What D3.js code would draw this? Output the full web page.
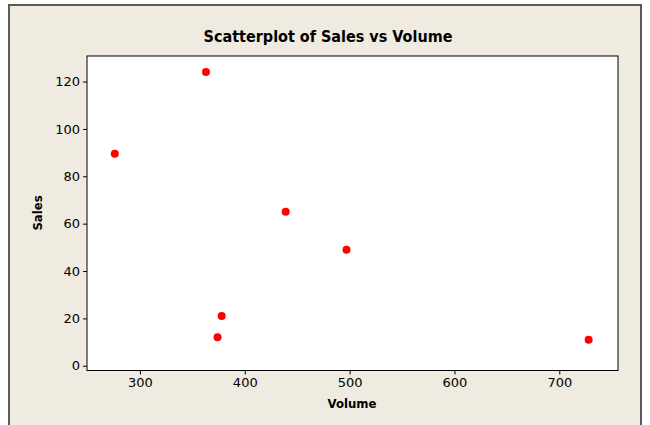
<!DOCTYPE html>
<html>
<head>
<meta charset="utf-8">
<script src="https://cdn.jsdelivr.net/npm/d3@7"></script>
<style>
body { margin: 0; background: #fff; }
svg text { font-family: Tahoma, "DejaVu Sans", Verdana, sans-serif; fill: #000; }
</style>
</head>
<body>
<div id="chart"></div>
<script>
// values
var volume = [276, 363, 439, 497, 378, 374, 728];
var sales = [89.5, 124, 65, 49, 21, 12, 11];
var xTicks = [300, 400, 500, 600, 700];
var yTicks = [0, 20, 40, 60, 80, 100, 120];

var width = 650, height = 425;
var plot = {left: 87, right: 618, top: 56, bottom: 370.5};

var svg = d3.select('#chart').append('svg')
    .attr('width', width)
    .attr('height', height);

// beige frame
svg.append('rect')
    .attr('x', 9).attr('y', 5)
    .attr('width', 632).attr('height', 440)
    .style('fill', '#efebe1')
    .style('stroke', '#5a5a5a')
    .style('stroke-width', 2);

svg.append('rect')
    .attr('x', plot.left).attr('y', plot.top)
    .attr('width', plot.right - plot.left)
    .attr('height', plot.bottom - plot.top)
    .style('fill', '#fff')
    .style('stroke', '#000')
    .style('stroke-width', 1);

var x = d3.scaleLinear().domain([249.5, 756]).range([plot.left, plot.right]);
var y = d3.scaleLinear().domain([-2, 130.8]).range([plot.bottom, plot.top]);

var xAxis = svg.append('g')
    .attr('transform', 'translate(0,' + plot.bottom + ')')
    .call(d3.axisBottom(x).tickValues(xTicks).tickSize(4).tickPadding(3));
var yAxis = svg.append('g')
    .attr('transform', 'translate(' + plot.left + ',0)')
    .call(d3.axisLeft(y).tickValues(yTicks).tickSize(4).tickPadding(3));

[xAxis, yAxis].forEach(function(g) {
    g.select('.domain').remove();
    g.selectAll('line').style('stroke', '#000');
    g.selectAll('text').style('font-size', '13px').style('font-family', null);
});

svg.selectAll('.pt')
    .data(volume)
    .enter().append('circle')
    .attr('class', 'pt')
    .attr('cx', function(d) { return x(d); })
    .attr('cy', function(d, i) { return y(sales[i]); })
    .attr('r', 4)
    .style('fill', '#ff0000');

svg.append('text')
    .attr('x', 328).attr('y', 42)
    .attr('text-anchor', 'middle')
    .style('font-family', '"DejaVu Sans Condensed", "DejaVu Sans", sans-serif')
    .style('font-size', '16px')
    .style('font-weight', 'bold')
    .text('Scatterplot of Sales vs Volume');

svg.append('text')
    .attr('x', 352).attr('y', 408)
    .attr('text-anchor', 'middle')
    .style('font-family', '"DejaVu Sans Condensed", "DejaVu Sans", sans-serif')
    .style('font-size', '13px')
    .style('font-weight', 'bold')
    .text('Volume');

svg.append('text')
    .attr('transform', 'translate(42,213) rotate(-90)')
    .attr('text-anchor', 'middle')
    .style('font-family', '"DejaVu Sans Condensed", "DejaVu Sans", sans-serif')
    .style('font-size', '13px')
    .style('font-weight', 'bold')
    .text('Sales');
</script>
</body>
</html>
